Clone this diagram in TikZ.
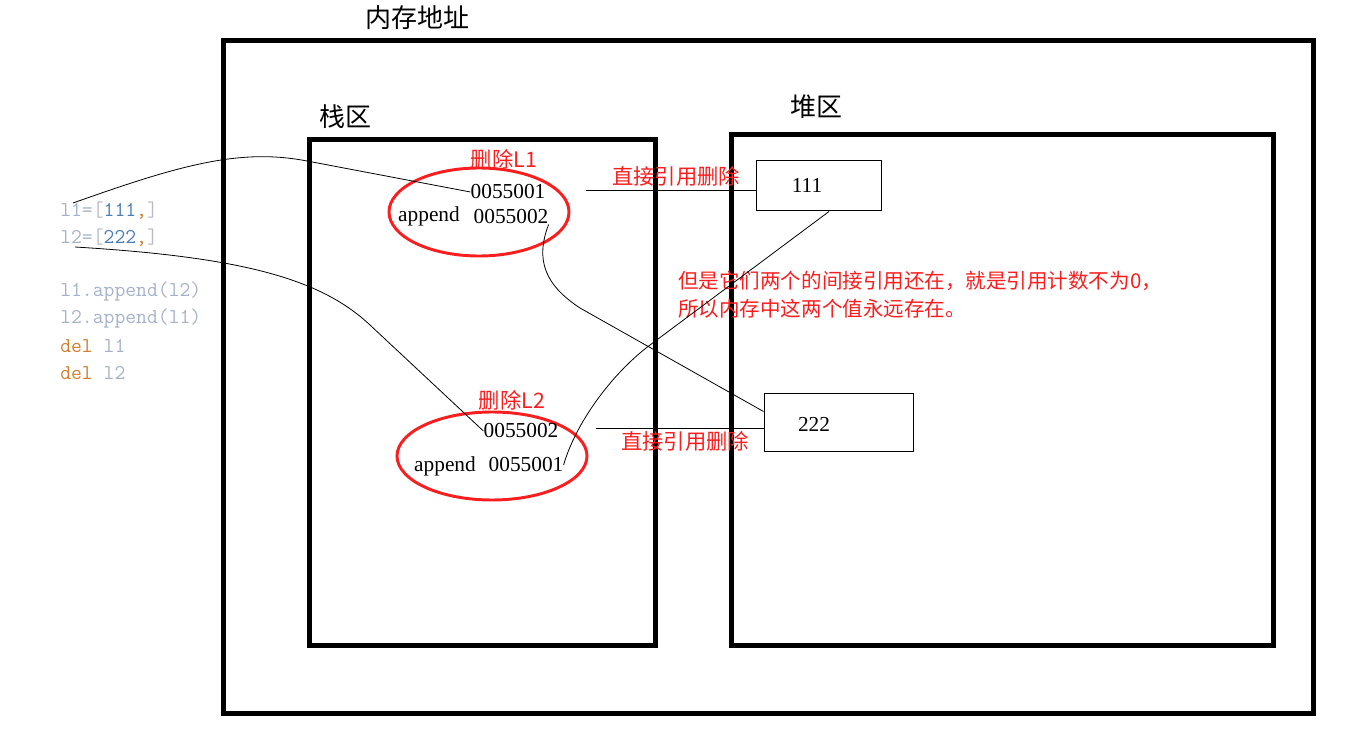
\documentclass[tikz,border=0pt]{standalone}
\usepackage{fontspec}
\setmainfont{Liberation Serif}
\newfontfamily\cjk{Noto Sans CJK SC}
\usetikzlibrary{shapes.geometric,calc}
\definecolor{codegrey}{RGB}{165,178,200}
\definecolor{codeblue}{RGB}{75,125,185}
\definecolor{codeorange}{RGB}{210,125,45}
\definecolor{bracketgrey}{RGB}{185,185,200}
\definecolor{mred}{RGB}{250,30,30}
\tikzset{
  thickbox/.style={draw, line width=3.75pt},
  valbox/.style={draw, line width=0.75pt, rectangle, inner sep=0pt},
  title/.style={font=\cjk\fontsize{19.5}{23}\selectfont, inner sep=0pt},
  redlabel/.style={text=mred, font=\cjk\fontsize{16}{19}\selectfont, inner sep=0pt},
  addr/.style={font=\fontsize{16}{19}\selectfont, inner sep=0pt},
  code/.style={font=\ttfamily\fontsize{15.8}{18}\selectfont, anchor=west, inner sep=0pt, text=codegrey},
  conn/.style={line width=0.6pt},
  oval/.style={ellipse, draw=mred, line width=2.2pt, inner sep=0pt}
}
\begin{document}
\begin{tikzpicture}[x=0.75pt,y=-0.75pt]
\useasboundingbox (0,0) rectangle (1363,748);
% regions
\draw[thickbox] (223.5,41) rectangle (1313,713);
\draw[thickbox] (309.5,140) rectangle (655.5,645);
\draw[thickbox] (731,135) rectangle (1273,645);
\node[title] (tmem) at (417,18) {内存地址};
\node[title] (tstack) at (345,117) {栈区};
\node[title] (theap) at (816,107) {堆区};
% code
\node[code] (c1) at (60,211) {l1=\textcolor{bracketgrey}{[}\textcolor{codeblue}{111}\textcolor{codeorange}{,}\textcolor{bracketgrey}{]}};
\node[code] (c2) at (60,238) {l2=\textcolor{bracketgrey}{[}\textcolor{codeblue}{222}\textcolor{codeorange}{,}\textcolor{bracketgrey}{]}};
\node[code] (c3) at (60,292) {l1.append(l2)};
\node[code] (c4) at (60,319) {l2.append(l1)};
\node[code] (c5) at (60,346) {\textcolor{codeorange}{del} l1};
\node[code] (c6) at (60,373) {\textcolor{codeorange}{del} l2};
% ellipses
\node[oval, minimum width=135pt, minimum height=66pt] (e1) at (479,212) {};
\node[oval, minimum width=142.5pt, minimum height=66pt] (e2) at (492,456) {};
\node[redlabel] (d1) at (504,159) {删除L1};
\node[redlabel] (d2) at (512,400) {删除L2};
\node[addr] (a11) at (508,192) {0055001};
\node[addr] (ap1) at (429,216) {append};
\node[addr] (a12) at (511,217) {0055002};
\node[addr] (a22) at (521,431) {0055002};
\node[addr] (ap2) at (445,466) {append};
\node[addr] (a21) at (526,465) {0055001};
% heap values
\node[valbox, minimum width=93.75pt, minimum height=37.5pt] (b111) at (819,186) {};
\node[addr] (v111) at (807,185) {111};
\node[valbox, minimum width=111.75pt, minimum height=43.5pt] (b222) at (838.5,422.5) {};
\node[addr] (v222) at (814,424) {222};
% direct refs
\coordinate (h1s) at (586,190);
\coordinate (h2s) at (596,428);
\draw[conn] (h1s) -- (h1s -| b111.west);
\draw[conn] (h2s) -- (h2s -| b222.west);
\node[redlabel] (r1) at (676,176) {直接引用删除};
\node[redlabel] (r2) at (685,441) {直接引用删除};
% note
\node[redlabel, anchor=west, font=\cjk\fontsize{15.4}{19}\selectfont] (n1) at (678,281) {但是它们两个的间接引用还在，就是引用计数不为0，};
\node[redlabel, anchor=west, font=\cjk\fontsize{15.4}{19}\selectfont] (n2) at (678,309) {所以内存中这两个值永远存在。};
% connectors
\coordinate (s1) at (73,203);
\coordinate (s2) at (75,247);
\draw[conn] (s1) .. controls (180,165) and (240,148) .. (307,161) -- (a11.west);
\draw[conn] (s2) .. controls (240,257) and (320,278) .. (370,325) -- (a22.west);
\draw[conn] ([xshift=7.5pt]b111.south) -- (650,345) .. controls (610,375) and (575,425) .. (a21.east);
\draw[conn] (a12.south east) .. controls (535,260) and (545,285) .. (580,308) -- ($(b222.west)+(0,-11)$);
\end{tikzpicture}
\end{document}
